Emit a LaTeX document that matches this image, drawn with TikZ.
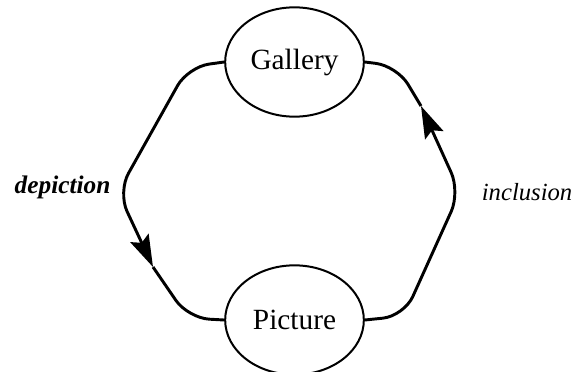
\documentclass[tikz,border=0pt]{standalone}
\usepackage{fontspec}
\setmainfont{Liberation Serif}
\usetikzlibrary{positioning,shapes.geometric,arrows.meta}

\begin{document}
\begin{tikzpicture}[x=0.75pt, y=-0.75pt, node distance=110pt,
    every node/.style={font=\fontsize{22}{24}\selectfont},
    place/.style={draw, ellipse, line width=1.5pt, minimum width=104pt, minimum height=82pt, inner sep=0pt},
    link/.style={line width=2.2pt, rounded corners=16pt},
    tip/.style={-{Stealth[length=24pt, width=15pt, inset=4pt]}},
    lbl/.style={font=\fontsize{18.5}{20}\selectfont\itshape}]
  \useasboundingbox (0,0) rectangle (577,371);
  \node[place] (gallery) at (294.5,62) {Gallery};
  \node[place, below=of gallery] (picture) {Picture};
  % corners of the left and right paths
  \coordinate (tl) at (188,67);
  \coordinate (ml) at (118,192);
  \coordinate (dtip) at (153,267);
  \coordinate (bl) at (188,318);
  \coordinate (br) at (404,316);
  \coordinate (mr) at (460,192);
  \coordinate (utip) at (421,106);
  \coordinate (tr) at (397,66);
  \draw[link, tip] (gallery.west) -- (tl) -- (ml) -- (dtip);
  \draw[link] (dtip) -- (bl) -- (picture.west);
  \draw[link, tip] (picture.east) -- (br) -- (mr) -- (utip);
  \draw[link] (utip) -- (tr) -- (gallery.east);
  \node[lbl, font=\fontsize{19}{21}\selectfont\bfseries\itshape, anchor=base west] (dep) at (10,193) {depiction};
  \node[lbl, anchor=base east] (inc) at (577,200) {inclusion};
\end{tikzpicture}
\end{document}
